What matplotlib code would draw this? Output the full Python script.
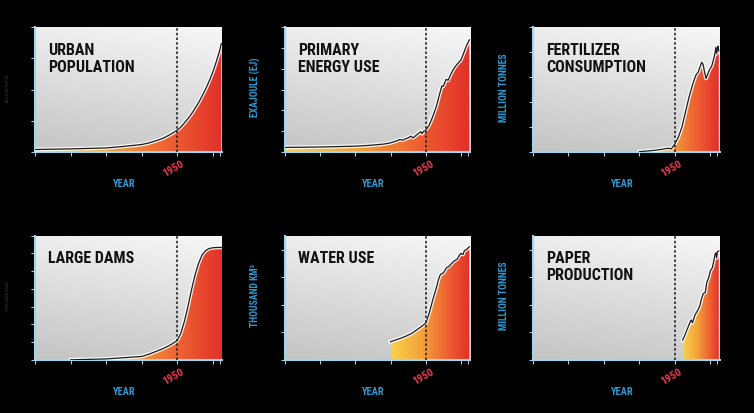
import matplotlib
matplotlib.use("Agg")
import matplotlib.pyplot as plt
import numpy as np
from matplotlib import font_manager as fm
from matplotlib.colors import LinearSegmentedColormap
import matplotlib.patheffects as pe

# ---------------- data ----------------
urban_years = [1750, 1800, 1850, 1875, 1900, 1910, 1920, 1930, 1940, 1950, 1955, 1960,
               1965, 1970, 1975, 1980, 1985, 1990, 1995, 2000, 2005, 2010, 2012]
urban_vals = [0.08, 0.10, 0.13, 0.18, 0.24, 0.29, 0.36, 0.44, 0.56, 0.70, 0.80, 0.93,
              1.07, 1.22, 1.40, 1.58, 1.80, 2.02, 2.28, 2.56, 2.90, 3.28, 3.48]

energy_years = [1750, 1800, 1850, 1870, 1880, 1890, 1900, 1910, 1913, 1918, 1920, 1925,
                1929, 1932, 1937, 1940, 1943, 1945, 1947, 1950, 1955, 1960, 1965, 1970,
                1973, 1975, 1979, 1982, 1985, 1990, 1995, 2000, 2005, 2008, 2010, 2012]
energy_vals = [22, 24, 28, 32, 35, 38, 44, 55, 60, 57, 62, 68, 76, 68, 82, 90, 98, 88,
               100, 104, 130, 170, 218, 282, 318, 316, 350, 345, 370, 402, 424, 442,
               485, 512, 525, 540]

fert_years = [1900, 1910, 1920, 1930, 1940, 1945, 1950, 1955, 1960, 1965, 1970, 1975,
              1978, 1980, 1983, 1985, 1988, 1990, 1992, 1994, 1996, 1998, 2000, 2002,
              2004, 2006, 2008, 2009, 2010, 2011, 2012]
fert_vals = [0.5, 1.5, 2.5, 4, 6, 5, 13, 24, 40, 64, 88, 108, 118, 124, 128, 135, 144,
             140, 128, 118, 124, 130, 134, 138, 146, 155, 168, 158, 166, 170, 162]

dams_years = [1800, 1850, 1900, 1910, 1920, 1930, 1940, 1950, 1955, 1960, 1965, 1970,
              1975, 1980, 1985, 1990, 1995, 2000, 2005, 2010, 2013]
dams_vals = [0.05, 0.3, 1.0, 1.6, 2.4, 3.2, 4.2, 5.5, 7.5, 10.8, 15.0, 19.7, 23.9,
             27.2, 29.6, 30.8, 31.4, 31.6, 31.7, 31.7, 31.7]

water_years = [1900, 1910, 1920, 1930, 1940, 1950, 1955, 1960, 1962, 1965, 1968, 1970,
               1972, 1975, 1978, 1980, 1983, 1985, 1988, 1990, 1993, 1995, 1998, 2000,
               2003, 2005, 2008, 2010, 2012]
water_vals = [0.66, 0.75, 0.84, 0.96, 1.14, 1.33, 1.70, 2.17, 2.35, 2.60, 2.90, 3.05,
              3.12, 3.15, 3.28, 3.35, 3.38, 3.45, 3.52, 3.58, 3.62, 3.66, 3.80, 3.86,
              3.82, 3.96, 4.00, 4.05, 4.10]

paper_years = [1961, 1965, 1970, 1973, 1975, 1978, 1980, 1983, 1985, 1988, 1990, 1993,
               1995, 1998, 2000, 2003, 2005, 2007, 2008, 2009, 2010, 2012]
paper_vals = [72, 95, 128, 145, 135, 160, 170, 183, 195, 225, 240, 245, 280, 300, 322,
              335, 360, 385, 388, 370, 392, 395]

titles = [["URBAN", "POPULATION"], ["PRIMARY", "ENERGY USE"], ["FERTILIZER", "CONSUMPTION"],
          ["LARGE DAMS"], ["WATER USE"], ["PAPER", "PRODUCTION"]]
ylabels = ["BILLION PEOPLE", "EXAJOULE (EJ)", "MILLION TONNES",
           "THOUSAND DAMS", "THOUSAND KM³", "MILLION TONNES"]
ymaxs = [4, 600, 200, 35, 4.5, 450]
ytick_lists = [[0, 1, 2, 3, 4], [0, 100, 200, 300, 400, 500, 600], [0, 40, 80, 120, 160, 200],
               [0, 5, 10, 15, 20, 25, 30, 35], [0, 1, 2, 3, 4], [0, 100, 200, 300, 400]]
xticks = [1750, 1800, 1850, 1900, 1950, 2000, 2010]
series = [(urban_years, urban_vals), (energy_years, energy_vals), (fert_years, fert_vals),
          (dams_years, dams_vals), (water_years, water_vals), (paper_years, paper_vals)]

# ---------------- fonts ----------------
def pick_font():
    fl = fm.fontManager.ttflist
    names = {f.name for f in fl}
    for n in ["Roboto Condensed", "Liberation Sans Narrow", "DejaVu Sans Condensed"]:
        if n in names:
            return dict(family=n)
    if any(f.name == "DejaVu Sans" and "condensed" in str(f.stretch) for f in fl):
        return dict(family="DejaVu Sans", fontstretch="condensed")
    return dict(family="Roboto")

FONT = pick_font()

# ---------------- figure ----------------
W, H = 754, 413
fig = plt.figure(figsize=(W / 100, H / 100), dpi=100, facecolor="black")

cols = [(35, 222), (285, 470), (533, 719.5)]
rows = [(27.3, 152), (235.7, 360)]

bg_cmap = LinearSegmentedColormap.from_list("bg", ["#c4c4c4", "#f7f7f7"])
fill_cmap = LinearSegmentedColormap.from_list(
    "fill", [(0.0, "#f8d24c"), (0.4, "#f3a038"), (0.7, "#ee6432"), (1.0, "#e2302a")])

BLUE = "#2e9ad0"
RED = "#e43a4c"

def fx(px):
    return px / W

def fy(py):
    return 1 - py / H

yy, xx = np.mgrid[0:1:200j, 0:1:200j]
bg_img = 0.82 * yy + 0.18 * xx

for i, ((yrs, vals), title, ylab, ymax, yt) in enumerate(
        zip(series, titles, ylabels, ymaxs, ytick_lists)):
    r, c = divmod(i, 3)
    l, rr = cols[c]
    t, b = rows[r]
    ax = fig.add_axes([fx(l), fy(b), (rr - l) / W, (b - t) / H])
    ax.set_facecolor("#e0e0e0")
    ax.imshow(bg_img, extent=[0, 1, 0, 1], transform=ax.transAxes, cmap=bg_cmap,
              aspect="auto", origin="lower", zorder=0, interpolation="bilinear")

    yrs = np.asarray(yrs, float)
    vals = np.asarray(vals, float)
    poly = ax.fill_between(yrs, 0, vals, facecolor="none", edgecolor="none")
    path = poly.get_paths()[0]
    grad = np.linspace(0, 1, 512)[None, :]
    im = ax.imshow(grad, extent=[yrs[0], yrs[-1], 0, ymax], cmap=fill_cmap,
                   aspect="auto", origin="lower", zorder=2, interpolation="bilinear")
    im.set_clip_path(path, transform=ax.transData)

    ax.plot(yrs, vals, color="#1c1c1c", lw=0.9, zorder=4,
            path_effects=[pe.Stroke(linewidth=2.8, foreground="white", alpha=0.85),
                          pe.Normal()])
    ax.axvline(1950, color="#262626", lw=1.2, ls=(0, (1.5, 1.3)), zorder=5)

    ax.set_xlim(1750, 2013)
    ax.set_ylim(0, ymax)
    ax.set_xticks(xticks)
    ax.set_yticks(yt)
    ax.tick_params(labelbottom=False, labelleft=False, direction="out", length=3,
                   width=0.8, color="#b5c9d3")
    for s in ["top", "right"]:
        ax.spines[s].set_visible(False)
    for s in ["left", "bottom"]:
        ax.spines[s].set_color("#9fd6ee")
        ax.spines[s].set_linewidth(1.5)

    # title inside panel
    for k, line in enumerate(title):
        fig.text(fx(l + 13), fy(t + 27.7 + 16.8 * k), line, fontsize=11.5,
                 fontweight="bold", color="#111111", ha="left", va="baseline", **FONT)

    # 1950 label
    fig.text(fx(l + 138), fy(b + 17), "1950", fontsize=8, fontweight="bold", color=RED,
             rotation=30, ha="center", va="center", **FONT)
    # YEAR label
    fig.text(fx((l + rr) / 2 - 4), fy(b + 32), "YEAR", fontsize=7.5, fontweight="bold",
             color=BLUE, ha="center", va="center", **FONT)
    # y label
    if c == 0:
        fig.text(fx(8), fy((t + b) / 2 - 2), ylab, fontsize=3, color="#3a3a3a",
                 rotation=90, ha="center", va="center", **FONT)
    else:
        xl = 255 if c == 1 else 504
        fig.text(fx(xl), fy((t + b) / 2 - 2), ylab, fontsize=7, fontweight="bold",
                 color=BLUE, rotation=90, ha="center", va="center", **FONT)

fig.savefig("out.png", dpi=100, facecolor="black")
